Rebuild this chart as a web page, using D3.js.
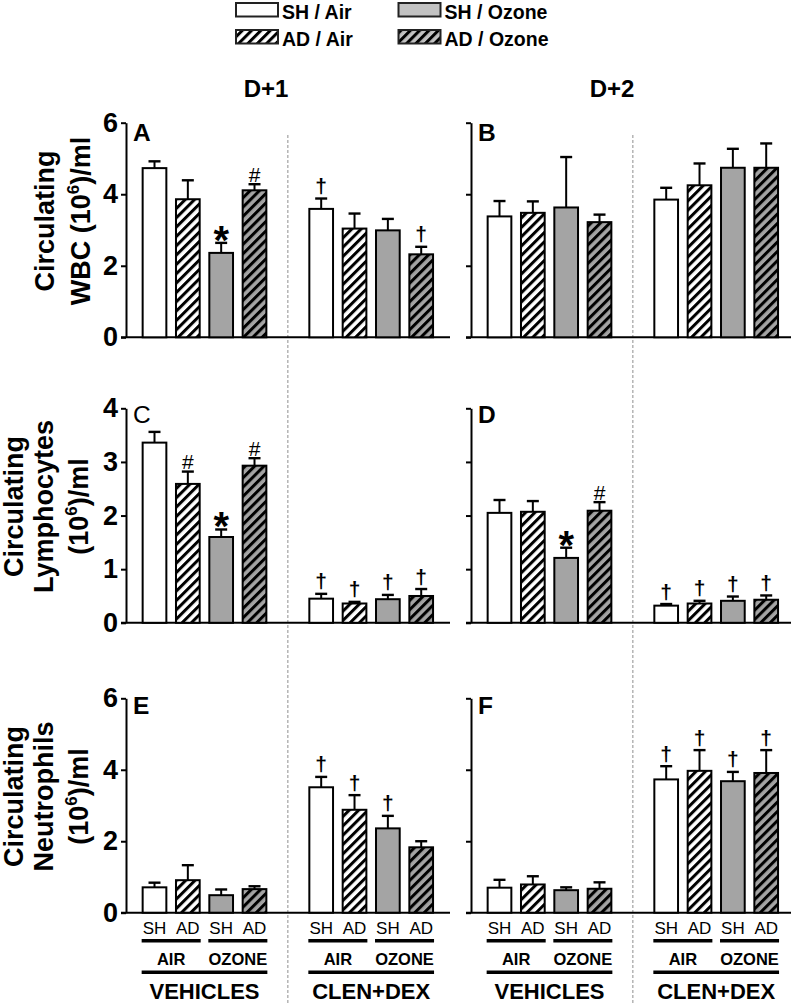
<!DOCTYPE html>
<html><head><meta charset="utf-8">
<script src="https://cdn.jsdelivr.net/npm/d3@7"></script>
<style>
body{margin:0;background:#fff}
svg{display:block}
text{font-family:"Liberation Sans",Arial,sans-serif;fill:#000}
</style></head>
<body><svg id="c" width="800" height="1003"></svg>
<script>
// ---------- data ----------
const conditions = ["SH / Air", "AD / Air", "SH / Ozone", "AD / Ozone"];
const strains = ["SH", "AD"];
const exposures = ["AIR", "OZONE"];
const treatments = ["VEHICLES", "CLEN+DEX"];
const days = ["D+1", "D+2"];

// bars in order: VEHICLES (SH/Air, AD/Air, SH/Ozone, AD/Ozone), CLEN+DEX (same)
const wbcD1Mean = [4.73, 3.86, 2.36, 4.11, 3.59, 3.04, 2.99, 2.32];
const wbcD1Sem  = [0.19, 0.53, 0.28, 0.17, 0.29, 0.42, 0.32, 0.21];
const wbcD1Sig  = ["", "", "*", "#", "†", "", "", "†"];
const wbcD2Mean = [3.38, 3.48, 3.63, 3.22, 3.85, 4.25, 4.74, 4.74];
const wbcD2Sem  = [0.43, 0.32, 1.41, 0.21, 0.33, 0.61, 0.53, 0.68];
const wbcD2Sig  = ["", "", "", "", "", "", "", ""];
const lymD1Mean = [3.36, 2.59, 1.60, 2.93, 0.45, 0.36, 0.44, 0.50];
const lymD1Sem  = [0.20, 0.23, 0.14, 0.14, 0.09, 0.03, 0.08, 0.13];
const lymD1Sig  = ["", "#", "*", "#", "†", "†", "†", "†"];
const lymD2Mean = [2.05, 2.07, 1.21, 2.09, 0.32, 0.36, 0.41, 0.43];
const lymD2Sem  = [0.24, 0.20, 0.19, 0.16, 0.03, 0.05, 0.08, 0.08];
const lymD2Sig  = ["", "", "*", "#", "†", "†", "†", "†"];
const neuD1Mean = [0.71, 0.91, 0.49, 0.66, 3.51, 2.88, 2.36, 1.83];
const neuD1Sem  = [0.13, 0.42, 0.16, 0.08, 0.29, 0.41, 0.35, 0.17];
const neuD1Sig  = ["", "", "", "", "†", "†", "†", ""];
const neuD2Mean = [0.70, 0.79, 0.63, 0.67, 3.73, 3.97, 3.68, 3.91];
const neuD2Sem  = [0.22, 0.23, 0.08, 0.18, 0.37, 0.58, 0.26, 0.64];
const neuD2Sig  = ["", "", "", "", "†", "†", "†", "†"];

const yMaxByRow = [6, 4, 6];
const yTicksByRow = [[0, 2, 4, 6], [0, 1, 2, 3, 4], [0, 2, 4, 6]];
const panelLetters = ["A", "B", "C", "D", "E", "F"];
const rowLabels = [
  [{t: "Circulating"}, {t: "WBC (10", sup: "6", post: ")/ml"}],
  [{t: "Circulating"}, {t: "Lymphocytes"}, {t: "(10", sup: "6", post: ")/ml"}],
  [{t: "Circulating"}, {t: "Neutrophils"}, {t: "(10", sup: "6", post: ")/ml"}]
];

const panels = [
  {mean: wbcD1Mean, sem: wbcD1Sem, sig: wbcD1Sig},
  {mean: wbcD2Mean, sem: wbcD2Sem, sig: wbcD2Sig},
  {mean: lymD1Mean, sem: lymD1Sem, sig: lymD1Sig},
  {mean: lymD2Mean, sem: lymD2Sem, sig: lymD2Sig},
  {mean: neuD1Mean, sem: neuD1Sem, sig: neuD1Sig},
  {mean: neuD2Mean, sem: neuD2Sem, sig: neuD2Sig}
];

// ---------- layout ----------
const svg = d3.select("#c");
const rowTop = [122.7, 408.3, 698.3];
const rowBase = [337.3, 622.8, 912.7];
const colAxisX = [126, 471];
const colAxisLen = [324, 320];
const slotStart = 28.5, slotSpan = 266.7;
const barW = 23.7;
const grey = "#a4a4a4";
const fills = ["#ffffff", "url(#hatchW)", grey, "url(#hatchG)"];
const legendFills = ["#ffffff", "url(#hatchW)", "#c2c2c2", "url(#hatchGL)"];

// patterns
const defs = svg.append("defs");
function hatch(id, bg, w, sw) {
  const p = defs.append("pattern").attr("id", id).attr("patternUnits", "userSpaceOnUse")
    .attr("width", w).attr("height", w).attr("patternTransform", "rotate(45)");
  p.append("rect").attr("width", w).attr("height", w).attr("fill", bg);
  p.append("rect").attr("x", 0).attr("width", sw).attr("height", w).attr("fill", "#000");
}
hatch("hatchW", "#fff", 6.6, 3);
hatch("hatchG", grey, 6.6, 3);
hatch("hatchGL", "#c2c2c2", 6.6, 3);

// legend
const legendPos = [[236, 3], [236, 30], [398.5, 3], [398.5, 30]];
conditions.forEach((c, i) => {
  const [lx, ly] = legendPos[i];
  svg.append("rect").attr("x", lx).attr("y", ly).attr("width", 42).attr("height", 13.5)
    .attr("fill", legendFills[i]).attr("stroke", "#222").attr("stroke-width", 2);
  svg.append("text").attr("x", lx + 46).attr("y", ly + 15.5).attr("font-size", 19.5)
    .attr("font-weight", "bold").text(c);
});

// day headings
const dayX = [266, 612];
days.forEach((d, i) => {
  svg.append("text").attr("x", dayX[i]).attr("y", 96.5).attr("text-anchor", "middle")
    .attr("font-size", 24).attr("font-weight", "bold").text(d);
});

// dashed dividers
colAxisX.forEach(ax => {
  const x = d3.scalePoint().domain(d3.range(9)).range([ax + slotStart, ax + slotStart + slotSpan]);
  svg.append("line").attr("x1", x(4)).attr("x2", x(4)).attr("y1", 135).attr("y2", 1003)
    .attr("stroke", "#9a9a9a").attr("stroke-width", 1.1).attr("stroke-dasharray", "3,2");
});

const letterY = [141, 423, 714];

panels.forEach((p, pi) => {
  const row = Math.floor(pi / 2), col = pi % 2;
  const ax = colAxisX[col];
  const x = d3.scalePoint().domain(d3.range(9)).range([ax + slotStart, ax + slotStart + slotSpan]);
  const y = d3.scaleLinear().domain([0, yMaxByRow[row]]).range([rowBase[row], rowTop[row]]);
  const slot = i => (i < 4 ? i : i + 1);
  const g = svg.append("g");

  // y axis
  const yAxis = d3.axisLeft(y).tickValues(yTicksByRow[row]).tickSize(5).tickSizeOuter(0).tickPadding(3)
    .tickFormat(col === 0 ? d3.format("d") : () => "");
  const ya = g.append("g").attr("transform", `translate(${ax},0)`).call(yAxis);
  ya.select(".domain").attr("stroke", "#000").attr("stroke-width", 2);
  ya.selectAll(".tick line").attr("stroke", "#000").attr("stroke-width", 2);
  ya.selectAll(".tick text").attr("font-size", 27).attr("font-weight", "bold")
    .attr("font-family", "'Liberation Sans',Arial,sans-serif").attr("fill", "#000");

  // x baseline
  g.append("line").attr("x1", ax - 5).attr("x2", ax + colAxisLen[col])
    .attr("y1", y(0)).attr("y2", y(0)).attr("stroke", "#000").attr("stroke-width", 2);

  // panel letter
  g.append("text").attr("x", ax + 7).attr("y", letterY[row]).attr("font-size", 24.5)
    .attr("font-weight", panelLetters[pi] === "C" ? "normal" : "bold").text(panelLetters[pi]);

  // error bars
  p.mean.forEach((m, i) => {
    const cx = x(slot(i));
    const top = y(m + p.sem[i]);
    g.append("line").attr("x1", cx).attr("x2", cx).attr("y1", y(m)).attr("y2", top)
      .attr("stroke", "#000").attr("stroke-width", 2);
    g.append("line").attr("x1", cx - 6).attr("x2", cx + 6).attr("y1", top).attr("y2", top)
      .attr("stroke", "#000").attr("stroke-width", 2.4);
  });

  // bars
  g.selectAll("rect.bar").data(p.mean).enter().append("rect").attr("class", "bar")
    .attr("x", (d, i) => x(slot(i)) - barW / 2)
    .attr("y", d => y(d))
    .attr("width", barW)
    .attr("height", d => y(0) - y(d))
    .attr("fill", (d, i) => fills[i % 4])
    .attr("stroke", "#000").attr("stroke-width", 2);

  // significance symbols
  p.sig.forEach((s, i) => {
    if (!s) return;
    const cx = x(slot(i));
    const cap = y(p.mean[i] + p.sem[i]);
    const t = g.append("text").attr("x", cx).attr("text-anchor", "middle").text(s);
    if (s === "*") {
      t.attr("y", cap + 11).attr("font-size", 40).attr("font-weight", "bold");
    } else if (s === "#") {
      t.attr("y", cap - 2.5).attr("font-size", 21).attr("font-family", "'Liberation Serif',serif");
    } else {
      t.attr("y", cap - 5.5).attr("font-size", 21).attr("font-weight", "bold")
        .attr("font-family", "'Liberation Serif',serif");
    }
  });

  // bottom category labels (last row only)
  if (row === 2) {
    const half = 12.85;
    for (let i = 0; i < 8; i++) {
      g.append("text").attr("x", x(slot(i))).attr("y", 934).attr("text-anchor", "middle")
        .attr("font-size", 17).text(strains[i % 2]);
    }
    treatments.forEach((tr, ti) => {
      exposures.forEach((ex, ei) => {
        const a = x(slot(ti * 4 + ei * 2)), b = x(slot(ti * 4 + ei * 2 + 1));
        g.append("line").attr("x1", a - half).attr("x2", b + half).attr("y1", 940.7).attr("y2", 940.7)
          .attr("stroke", "#000").attr("stroke-width", 3.5);
        g.append("text").attr("x", (a + b) / 2).attr("y", 964.5).attr("text-anchor", "middle")
          .attr("font-size", 16.5).attr("font-weight", "bold").text(ex);
      });
      const a = x(slot(ti * 4)), b = x(slot(ti * 4 + 3));
      g.append("line").attr("x1", a - half).attr("x2", b + half).attr("y1", 972.3).attr("y2", 972.3)
        .attr("stroke", "#000").attr("stroke-width", 3.5);
      g.append("text").attr("x", (a + b) / 2).attr("y", 998.5).attr("text-anchor", "middle")
        .attr("font-size", 22).attr("font-weight", "bold").text(tr);
    });
  }
});

// y-axis titles
const labelBaseX = [[53.5, 89.5], [22.7, 53.3, 88], [23, 53, 88]];
rowLabels.forEach((lines, r) => {
  const cy = (rowTop[r] + rowBase[r]) / 2 - 9;
  lines.forEach((ln, li) => {
    const t = svg.append("text")
      .attr("transform", `translate(${labelBaseX[r][li]},${cy}) rotate(-90)`)
      .attr("text-anchor", "middle").attr("font-size", 27).attr("font-weight", "bold");
    t.append("tspan").text(ln.t);
    if (ln.sup) {
      t.append("tspan").attr("font-size", 17).attr("dy", -11).text(ln.sup);
      t.append("tspan").attr("dy", 11).text(ln.post);
    }
  });
});
</script>
</body></html>
